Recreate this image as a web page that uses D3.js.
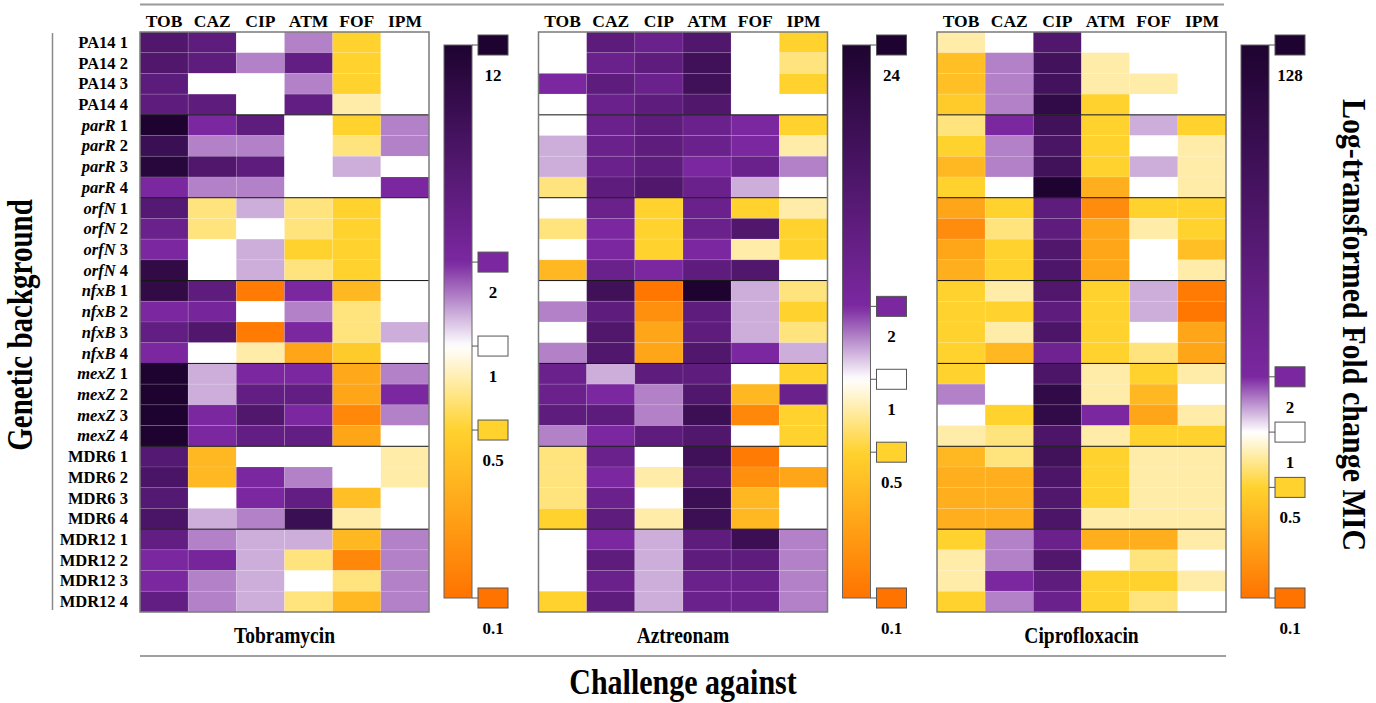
<!DOCTYPE html>
<html><head><meta charset="utf-8">
<script src="https://cdn.jsdelivr.net/npm/d3@7"></script>
<style>
body{margin:0;background:#fff}
svg{display:block}
text{font-family:"Liberation Serif","Times New Roman",serif;font-weight:bold;fill:#000}
</style>
</head><body>
<svg id="c" width="1376" height="703"></svg>
<script>
// ---------- data ----------
const drugs = ["TOB","CAZ","CIP","ATM","FOF","IPM"];
const groups = ["PA14","parR","orfN","nfxB","mexZ","MDR6","MDR12"];
const italicGroups = ["parR","orfN","nfxB","mexZ"];
const replicates = [1,2,3,4];
const panelNames = ["Tobramycin","Aztreonam","Ciprofloxacin"];
const legendMax = [12,24,128];
const tickValues = [0.125,0.5,1,2];
const tickLabelsTobramycin = ["0.1","0.5","1","2","12"];
const tickLabelsAztreonam = ["0.1","0.5","1","2","24"];
const tickLabelsCiprofloxacin = ["0.1","0.5","1","2","128"];

// fold change MIC, rows = genetic background replicates, cols = drugs
const tobramycinData = [
 [4.6,3.5,1,1.5,0.5,1],
 [4.6,3.5,1.5,3.25,0.5,1],
 [3.6,1,1,1.5,0.5,1],
 [3.5,3.5,1,3.25,0.75,1],
 [12,2,3.5,1,0.5,1.5],
 [6.8,1.5,1.5,1,0.65,1.5],
 [9.9,4.6,3.5,1,1.3,1],
 [2,1.5,1.5,1,1,2],
 [4.2,0.65,1.3,0.65,0.5,1],
 [2.8,0.65,1,0.65,0.5,1],
 [2,1,1.3,0.5,0.5,1],
 [8.4,1,1.3,0.65,0.5,1],
 [8.4,3.5,0.14,2,0.34,1],
 [2,2.2,1,1.5,0.65,1],
 [3.25,4.6,0.14,2,0.65,1.3],
 [2,1,0.75,0.26,0.45,1],
 [12,1.3,2,2,0.27,1.5],
 [12,1.3,3.25,3.25,0.26,2],
 [12,2,4.6,2,0.17,1.5],
 [12,2,3.25,3.25,0.26,1],
 [4.2,0.34,1,1,1,0.75],
 [5,0.34,2,1.5,1,0.75],
 [4.2,1,2,3.25,0.38,1],
 [5,1.3,1.5,6.8,0.75,1],
 [3.25,1.5,1.3,1.3,0.34,1.5],
 [2,2.2,1.3,0.65,0.17,1.5],
 [2,1.5,1.3,1,0.65,1.5],
 [3.25,1.5,1.3,0.65,0.34,1.5]
];
const aztreonamData = [
 [1,4.5,3.1,6.3,1,0.5],
 [1,3.1,4.3,9.6,1,0.65],
 [2,4.3,3.1,9.6,1,0.5],
 [1,3.1,4.3,6.3,1,1],
 [1,3.1,4.3,3.1,2,0.5],
 [1.3,3.1,4.3,3.1,2,0.75],
 [1.3,3.1,4.3,2,3.1,1.5],
 [0.65,4.3,6.3,3.1,1.3,1],
 [1,3.1,0.5,3.1,0.5,0.75],
 [0.65,2,0.5,3.1,6.3,0.5],
 [1,2,0.5,2,0.75,0.5],
 [0.34,3.1,2,4.3,6.3,1],
 [1,9.6,0.13,24,1.3,0.65],
 [1.5,4.3,0.19,4.3,1.3,0.5],
 [1,6.3,0.26,4.3,1.3,0.65],
 [1.5,6.3,0.26,6.3,2,1.3],
 [3.1,1.3,4.3,4.3,1,0.5],
 [3.1,2,1.5,6.3,0.34,3.1],
 [4.3,4.5,1.5,10.9,0.17,0.5],
 [1.5,2,4.3,6.3,1,0.5],
 [0.65,3.1,1,9.6,0.14,1],
 [0.65,2,0.75,6.3,0.19,0.26],
 [0.65,3.1,1,10.9,0.34,1],
 [0.5,4.3,0.75,10.9,0.34,1],
 [1,2,1.3,4.3,10.9,1.5],
 [1,4.3,1.3,4.3,4.3,1.5],
 [1,3.1,1.3,3.1,3.1,1.5],
 [0.5,4.3,1.3,3.1,3.1,1.5]
];
const ciprofloxacinData = [
 [0.75,1,13.5,1,1,1],
 [0.38,1.5,24,0.75,1,1],
 [0.38,1.5,24,0.75,0.75,1],
 [0.45,1.5,55,0.5,1,1],
 [0.65,2,27,0.5,1.3,0.5],
 [0.5,1.5,17,0.5,1,0.75],
 [0.34,1.5,27,0.5,1.3,0.75],
 [0.5,1,128,0.3,1,0.75],
 [0.26,0.5,7.3,0.18,0.5,0.5],
 [0.18,0.65,7.3,0.26,0.75,0.5],
 [0.26,0.5,13.5,0.26,1,0.38],
 [0.3,0.5,15,0.26,1,0.75],
 [0.5,0.75,13.5,0.5,1.3,0.14],
 [0.5,0.5,7.3,0.5,1.3,0.13],
 [0.5,0.75,16.7,0.5,1,0.26],
 [0.5,0.34,3.5,0.5,0.65,0.26],
 [0.5,1,16.7,0.75,0.5,0.75],
 [1.5,1,55,0.75,0.34,1],
 [1,0.5,55,2,0.26,0.75],
 [0.75,0.65,16.7,0.75,0.5,0.5],
 [0.34,0.65,27,0.5,0.75,0.75],
 [0.3,0.3,16.7,0.5,0.75,0.75],
 [0.3,0.3,13.5,0.5,0.75,0.75],
 [0.3,0.3,16.7,0.75,0.75,0.75],
 [0.5,1.5,4.2,0.3,0.3,0.75],
 [0.75,1.5,13.5,1,0.65,1],
 [0.75,2,7.3,0.5,0.5,0.75],
 [0.5,1.5,4.2,0.5,0.65,1]
];

// ---------- layout ----------
const panels = [
  {name:panelNames[0], data:tobramycinData, max:legendMax[0], labels:tickLabelsTobramycin},
  {name:panelNames[1], data:aztreonamData, max:legendMax[1], labels:tickLabelsAztreonam},
  {name:panelNames[2], data:ciprofloxacinData, max:legendMax[2], labels:tickLabelsCiprofloxacin}
];
const colorStops = ["#ff7300","#ffd22e","#ffffff","#7b28a0","#1e0330"];
const rows = groups.flatMap(g => replicates.map(r => ({g, r, id: g + " " + r})));
const rowIds = rows.map(d => d.id);

const svg = d3.select("#c");
const yTop = 32, yBottom = 612, pW = 289;
const panelX = d3.scalePoint().domain(panelNames).range([140, 937]);
const y = d3.scaleBand().domain(rowIds).range([yTop, yBottom]);

// top / bottom rules
svg.append("line").attr("x1",140).attr("x2",1224).attr("y1",4.5).attr("y2",4.5)
  .attr("stroke","#9a9a9a").attr("stroke-width",2);
svg.append("line").attr("x1",140).attr("x2",1226).attr("y1",656).attr("y2",656)
  .attr("stroke","#808080").attr("stroke-width",1.5);
// left rule
svg.append("line").attr("x1",52.5).attr("x2",52.5).attr("y1",yTop+1).attr("y2",yBottom-2)
  .attr("stroke","#8a8a8a").attr("stroke-width",1.5);

// row labels
const rl = svg.append("g").selectAll("text").data(rows).join("text")
  .attr("x",128).attr("y",d => y(d.id) + y.bandwidth()/2 + 5.5)
  .attr("text-anchor","end").attr("font-size",16.5);
rl.append("tspan").attr("font-style",d => italicGroups.includes(d.g) ? "italic" : "normal").text(d => d.g);
rl.append("tspan").text(d => " " + d.r);

const defs = svg.append("defs");

panels.forEach((p, pi) => {
  const x0 = panelX(p.name);
  const x = d3.scaleBand().domain(drugs).range([x0, x0 + pW]);
  const color = d3.scaleLog().domain([tickValues[0], tickValues[1], tickValues[2], tickValues[3], p.max])
    .range(colorStops).clamp(true);
  const g = svg.append("g");

  // cells
  const cells = [];
  p.data.forEach((row, ri) => row.forEach((v, ci) => cells.push({row: rowIds[ri], drug: drugs[ci], v})));
  g.selectAll("rect.cell").data(cells).join("rect").attr("class","cell")
    .attr("x", d => x(d.drug)).attr("y", d => y(d.row))
    .attr("width", x.bandwidth()).attr("height", y.bandwidth())
    .attr("fill", d => color(d.v))
    .attr("stroke","rgba(255,255,255,0.14)").attr("stroke-width",0.8);

  // group separators
  g.selectAll("line.sep").data(groups.slice(1)).join("line").attr("class","sep")
    .attr("x1", x0).attr("x2", x0 + pW)
    .attr("y1", d => y(d + " 1")).attr("y2", d => y(d + " 1"))
    .attr("stroke","#111").attr("stroke-width",1);

  // border
  g.append("rect").attr("x",x0).attr("y",yTop).attr("width",pW).attr("height",yBottom-yTop)
    .attr("fill","none").attr("stroke","#7a7a7a").attr("stroke-width",1.5);

  // headers
  g.selectAll("text.hd").data(drugs).join("text").attr("class","hd")
    .attr("x", d => x(d) + x.bandwidth()/2).attr("y", 27)
    .attr("text-anchor","middle").attr("font-size",17.5).text(d => d);

  // panel name
  g.append("text").attr("transform",`translate(${x0 + pW/2},643) scale(1,1.2)`)
    .attr("text-anchor","middle").attr("font-size",19.5).text(p.name);

  // legend
  const bx = x0 + pW + 15, bw = 28;
  const ly = d3.scaleLog().domain([tickValues[0], p.max]).range([598, 45]);
  const grad = defs.append("linearGradient").attr("id","grad"+pi)
    .attr("gradientUnits","userSpaceOnUse").attr("x1",0).attr("x2",0)
    .attr("y1",ly.range()[0]).attr("y2",ly.range()[1]);
  d3.range(0, 1.0001, 0.01).forEach(t => {
    const v = ly.invert(ly.range()[0] + t * (ly.range()[1] - ly.range()[0]));
    grad.append("stop").attr("offset", t).attr("stop-color", color(v));
  });
  g.append("rect").attr("x",bx).attr("y",ly.range()[1]).attr("width",bw)
    .attr("height",ly.range()[0]-ly.range()[1]).attr("fill",`url(#grad${pi})`)
    .attr("stroke","#666").attr("stroke-width",1);

  const ticks = tickValues.concat([p.max]).map((v,i) => ({v, label: p.labels[i]}));
  const tg = g.selectAll("g.tk").data(ticks).join("g").attr("class","tk")
    .attr("transform", d => `translate(${bx + bw},${ly(d.v)})`);
  tg.append("line").attr("x1",0).attr("x2",6).attr("stroke","#555").attr("stroke-width",1);
  tg.append("rect").attr("x",6).attr("y",-10).attr("width",30).attr("height",20)
    .attr("fill", d => color(d.v)).attr("stroke","#555").attr("stroke-width",1);
  tg.append("text").attr("x",21).attr("y",36).attr("text-anchor","middle")
    .attr("font-size",17).text(d => d.label);
});

// axis titles
svg.append("text").attr("transform","translate(32,325) rotate(-90) scale(1,1.2)")
  .attr("text-anchor","middle").attr("font-size",29).text("Genetic background");
svg.append("text").attr("transform","translate(1343,325) rotate(90) scale(1,1.15)")
  .attr("text-anchor","middle").attr("font-size",30).text("Log-transformed Fold change MIC");
svg.append("text").attr("transform","translate(683,694) scale(1,1.2)")
  .attr("text-anchor","middle").attr("font-size",30).text("Challenge against");
</script>
</body></html>
